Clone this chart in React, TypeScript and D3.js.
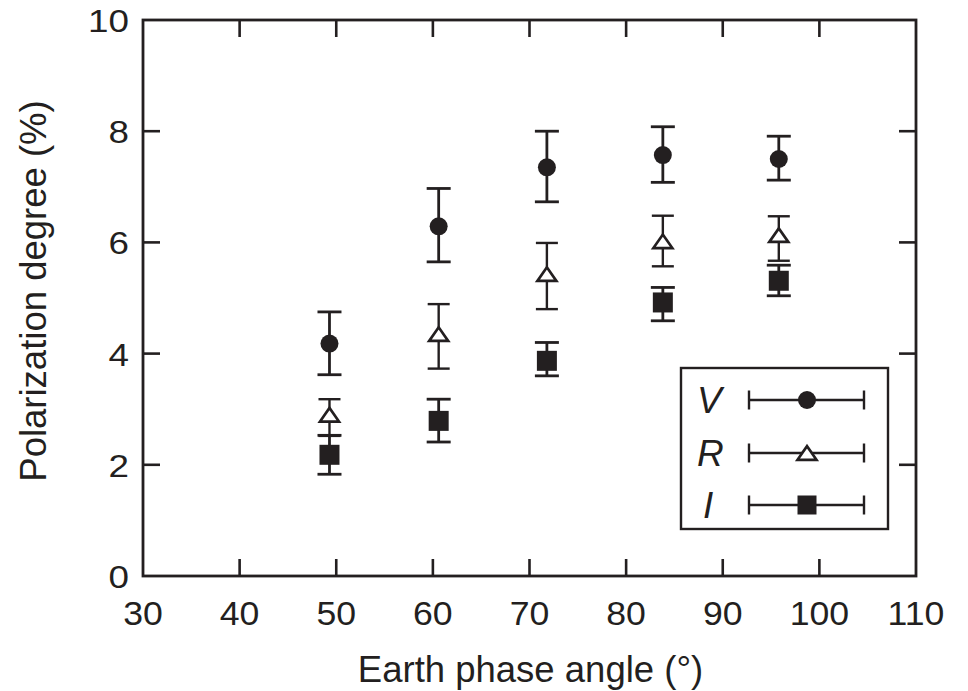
import React from "react";
import * as d3 from "d3";

const phaseAngles = [49.3, 60.6, 71.8, 83.8, 95.8];
const vValues = [4.18, 6.29, 7.35, 7.57, 7.5];
const vLow = [3.62, 5.65, 6.73, 7.08, 7.12];
const vHigh = [4.75, 6.97, 8.0, 8.08, 7.91];
const rValues = [2.9, 4.35, 5.43, 6.02, 6.13];
const rLow = [2.52, 3.73, 4.8, 5.57, 5.67];
const rHigh = [3.18, 4.89, 5.99, 6.48, 6.47];
const iValues = [2.18, 2.79, 3.87, 4.92, 5.31];
const iLow = [1.83, 2.41, 3.6, 4.59, 5.04];
const iHigh = [2.53, 3.18, 4.2, 5.19, 5.59];
const xTicks = [30, 40, 50, 60, 70, 80, 90, 100, 110];
const yTicks = [0, 2, 4, 6, 8, 10];
const legendLabels = ["V", "R", "I"];

const INK = "#231f20";
const FONT = "'Liberation Sans', Arial, Helvetica, sans-serif";

function Marker({ kind, cx, cy, s = 1 }: { kind: string; cx: number; cy: number; s?: number }) {
  if (kind === "V") return <circle cx={cx} cy={cy} r={9 * s} fill={INK} />;
  if (kind === "I")
    return <rect x={cx - 10 * s} y={cy - 10 * s} width={20 * s} height={20 * s} fill={INK} />;
  const w = 9.5 * s, h = 6.8 * s;
  const pts = d3.line()([[cx - w, cy + h], [cx + w, cy + h], [cx, cy - h]]) + "Z";
  return <path d={pts} fill="#fff" stroke={INK} strokeWidth={2.7} strokeLinejoin="miter" />;
}

export default function App() {
  const x = d3.scaleLinear().domain([30, 110]).range([143, 916]);
  const y = d3.scaleLinear().domain([0, 10]).range([576, 20]);
  const [x0, x1] = x.range();
  const [y0, y1] = y.range();
  const tickLen = 17;

  const series = [
    { kind: "V", vals: vValues, lo: vLow, hi: vHigh, sw: 2.8, cap: 12 },
    { kind: "R", vals: rValues, lo: rLow, hi: rHigh, sw: 2.4, cap: 11 },
    { kind: "I", vals: iValues, lo: iLow, hi: iHigh, sw: 2.8, cap: 12 },
  ];

  const legendRows = [400, 453, 505];

  return (
    <svg width={968} height={691} style={{ position: "absolute", left: 0, top: 0, background: "#fff" }} fontFamily={FONT}>
      <rect width={968} height={691} fill="#fff" />
      {xTicks.slice(1, -1).map((t) => (
        <g key={"xt" + t} stroke={INK} strokeWidth={2.6}>
          <line x1={x(t)} x2={x(t)} y1={y0} y2={y0 - tickLen} />
          <line x1={x(t)} x2={x(t)} y1={y1} y2={y1 + tickLen} />
        </g>
      ))}
      {yTicks.slice(1, -1).map((t) => (
        <g key={"yt" + t} stroke={INK} strokeWidth={2.6}>
          <line x1={x0} x2={x0 + tickLen} y1={y(t)} y2={y(t)} />
          <line x1={x1} x2={x1 - tickLen} y1={y(t)} y2={y(t)} />
        </g>
      ))}
      <rect x={x0} y={y1} width={x1 - x0} height={y0 - y1} fill="none" stroke={INK} strokeWidth={2.8} />
      {xTicks.map((t) => (
        <text key={"xl" + t} transform={`translate(${x(t)},${625}) scale(1.08,1)`} textAnchor="middle" fontSize={33} fill={INK}>
          {t}
        </text>
      ))}
      {yTicks.map((t) => (
        <text key={"yl" + t} transform={`translate(${129},${y(t) + 12}) scale(1.15,1)`} textAnchor="end" fontSize={32} fill={INK}>
          {t}
        </text>
      ))}
      <text x={(x0 + x1) / 2 + 1} y={682} textAnchor="middle" fontSize={36.5} fill={INK}>
        Earth phase angle (°)
      </text>
      <text transform={`translate(46,${291}) rotate(-90)`} textAnchor="middle" fontSize={36.5} fill={INK}>
        Polarization degree (%)
      </text>
      {series.map((s) => (
        <g key={s.kind}>
          {phaseAngles.map((a, i) => (
            <g key={i} stroke={INK} strokeWidth={s.sw}>
              <line x1={x(a)} x2={x(a)} y1={y(s.lo[i])} y2={y(s.hi[i])} />
              <line x1={x(a) - s.cap} x2={x(a) + s.cap} y1={y(s.lo[i])} y2={y(s.lo[i])} />
              <line x1={x(a) - s.cap} x2={x(a) + s.cap} y1={y(s.hi[i])} y2={y(s.hi[i])} />
            </g>
          ))}
          {phaseAngles.map((a, i) => (
            <Marker key={"m" + i} kind={s.kind} cx={x(a)} cy={y(s.vals[i])} />
          ))}
        </g>
      ))}
      <rect x={681} y={368} width={207} height={161} fill="#fff" stroke={INK} strokeWidth={2.4} />
      {legendLabels.map((lab, i) => (
        <g key={lab}>
          <text x={lab === "I" ? 703 : 697} y={legendRows[i] + 13} fontSize={37} fontStyle="italic" fill={INK}>
            {lab}
          </text>
          <g stroke={INK} strokeWidth={2.4}>
            <line x1={749} x2={864} y1={legendRows[i]} y2={legendRows[i]} />
            <line x1={749} x2={749} y1={legendRows[i] - 9.5} y2={legendRows[i] + 9.5} />
            <line x1={864} x2={864} y1={legendRows[i] - 9.5} y2={legendRows[i] + 9.5} />
          </g>
          <Marker kind={lab} cx={807} cy={legendRows[i]} s={lab === "I" ? 0.95 : 1} />
        </g>
      ))}
    </svg>
  );
}
